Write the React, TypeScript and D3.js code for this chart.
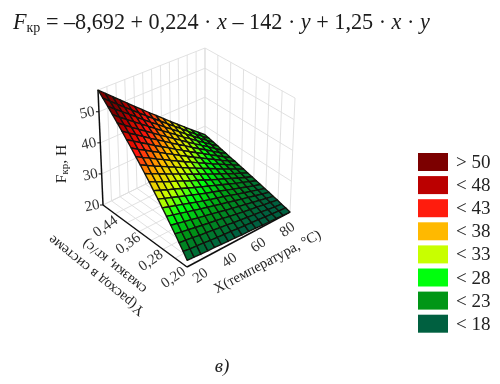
import React from "react";
import * as d3 from "d3";

const legendLabels = ["> 50", "< 48", "< 43", "< 38", "< 33", "< 28", "< 23", "< 18"];
const legendColors = ["#7b0000", "#bb0000", "#ff1a0a", "#ffb900", "#c8ff00", "#00ff10", "#009614", "#00603f"];
const colorStops = [21.5, 26, 30, 33.5, 38, 43, 48, 52];
const xTicks = [20, 40, 60, 80];
const yTicks = [0.2, 0.28, 0.36, 0.44];
const zTicks = [20, 30, 40, 50];
const xGrid = [20, 25, 30, 35, 40, 45, 50, 55, 60, 65, 70, 75, 80];
const yGrid = [0.2, 0.24, 0.28, 0.32, 0.36, 0.4, 0.44, 0.48];
const zGrid = [20, 30, 40, 50, 57];
// Surface heights: rows run from y = 0.20 to y = 0.48, columns from x = 20 to x = 80.
const surfaceX = [20, 24, 28, 32, 36, 40, 44, 48, 52, 56, 60, 64, 68, 72, 76, 80];
const surfaceY = [0.2, 0.214, 0.228, 0.242, 0.256, 0.27, 0.284, 0.298, 0.312, 0.326, 0.34, 0.354, 0.368, 0.382, 0.396, 0.41, 0.424, 0.438, 0.452, 0.466, 0.48];
const surfaceZ = [
  [22.0, 21.9, 21.7, 21.6, 21.5, 21.3, 21.2, 21.1, 20.9, 20.8, 20.7, 20.5, 20.4, 20.3, 20.1, 20.0],
  [23.8, 23.5, 23.3, 23.1, 22.8, 22.6, 22.4, 22.2, 21.9, 21.7, 21.5, 21.3, 21.0, 20.8, 20.6, 20.4],
  [25.5, 25.2, 24.9, 24.5, 24.2, 23.9, 23.6, 23.3, 22.9, 22.6, 22.3, 22.0, 21.7, 21.3, 21.0, 20.7],
  [27.3, 26.8, 26.4, 26.0, 25.6, 25.2, 24.8, 24.4, 23.9, 23.5, 23.1, 22.7, 22.3, 21.9, 21.5, 21.1],
  [29.0, 28.5, 28.0, 27.5, 27.0, 26.5, 26.0, 25.5, 24.9, 24.4, 23.9, 23.4, 22.9, 22.4, 21.9, 21.4],
  [30.8, 30.2, 29.6, 29.0, 28.4, 27.8, 27.2, 26.6, 26.0, 25.4, 24.8, 24.2, 23.6, 23.0, 22.4, 21.8],
  [32.5, 31.8, 31.1, 30.4, 29.7, 29.0, 28.3, 27.6, 27.0, 26.3, 25.6, 24.9, 24.2, 23.5, 22.8, 22.1],
  [34.3, 33.5, 32.7, 31.9, 31.1, 30.3, 29.5, 28.7, 28.0, 27.2, 26.4, 25.6, 24.8, 24.0, 23.2, 22.5],
  [36.0, 35.1, 34.2, 33.4, 32.5, 31.6, 30.7, 29.8, 29.0, 28.1, 27.2, 26.3, 25.4, 24.6, 23.7, 22.8],
  [37.8, 36.8, 35.8, 34.8, 33.9, 32.9, 31.9, 31.0, 30.0, 29.0, 28.0, 27.1, 26.1, 25.1, 24.1, 23.2],
  [39.5, 38.4, 37.4, 36.3, 35.2, 34.2, 33.1, 32.0, 31.0, 29.9, 28.8, 27.8, 26.7, 25.6, 24.6, 23.5],
  [41.3, 40.1, 38.9, 37.8, 36.6, 35.5, 34.3, 33.1, 32.0, 30.8, 29.7, 28.5, 27.3, 26.2, 25.0, 23.9],
  [43.0, 41.7, 40.5, 39.2, 38.0, 36.7, 35.5, 34.2, 33.0, 31.7, 30.5, 29.2, 28.0, 26.7, 25.5, 24.2],
  [44.8, 43.4, 42.1, 40.7, 39.4, 38.0, 36.7, 35.3, 34.0, 32.6, 31.3, 29.9, 28.6, 27.2, 25.9, 24.6],
  [46.5, 45.1, 43.6, 42.2, 40.7, 39.3, 37.9, 36.4, 35.0, 33.5, 32.1, 30.7, 29.2, 27.8, 26.3, 24.9],
  [48.3, 46.7, 45.2, 43.7, 42.1, 40.6, 39.1, 37.5, 36.0, 34.5, 32.9, 31.4, 29.9, 28.3, 26.8, 25.3],
  [50.0, 48.4, 46.7, 45.1, 43.5, 41.9, 40.2, 38.6, 37.0, 35.4, 33.7, 32.1, 30.5, 28.9, 27.2, 25.6],
  [51.8, 50.0, 48.3, 46.6, 44.9, 43.2, 41.4, 39.7, 38.0, 36.3, 34.5, 32.8, 31.1, 29.4, 27.7, 26.0],
  [53.5, 51.7, 49.9, 48.1, 46.3, 44.4, 42.6, 40.8, 39.0, 37.2, 35.4, 33.5, 31.7, 29.9, 28.1, 26.3],
  [55.3, 53.3, 51.4, 49.5, 47.6, 45.7, 43.8, 41.9, 40.0, 38.1, 36.2, 34.3, 32.3, 30.4, 28.5, 26.7],
  [57, 55, 53, 51, 49, 47, 45, 43, 41, 39, 37, 35, 33, 31, 29, 27],
];

const W = 500;
const H = 384;
const serif = "'Liberation Serif', serif";

const uScale = d3.scaleLinear().domain([20, 80]).range([0, 1]);
const vScale = d3.scaleLinear().domain([0.2, 0.48]).range([0, 1]);
const wScale = d3.scaleLinear().domain([20, 57]).range([0, 1]);
const color = d3.scaleLinear<string>().domain(colorStops).range([...legendColors].reverse()).clamp(true);
const xLabelX = d3.scaleLinear().domain([20, 80]).range([200, 287]);
const xLabelY = d3.scaleLinear().domain([20, 80]).range([275, 229]);
const yLabelX = d3.scaleLinear().domain([0.2, 0.44]).range([173, 105]);
const yLabelY = d3.scaleLinear().domain([0.2, 0.44]).range([277, 226]);
const zLabelX = d3.scaleLinear().domain([20, 50]).range([92, 87]);
const zLabelY = d3.scaleLinear().domain([20, 50]).range([205, 112]);

// Screen positions of the eight corners of the plot box, indexed [u][v][w].
const box = [
  [[[187, 267], [191, 145]], [[103, 205], [98, 90]]],
  [[[290, 212], [295, 98]], [[205, 155], [205, 48]]],
];

function project(x: number, y: number, z: number): [number, number] {
  const u = uScale(x), v = vScale(y), w = wScale(z);
  const at = (k: number) =>
    (1 - u) * ((1 - v) * ((1 - w) * box[0][0][0][k] + w * box[0][0][1][k]) + v * ((1 - w) * box[0][1][0][k] + w * box[0][1][1][k])) +
    u * ((1 - v) * ((1 - w) * box[1][0][0][k] + w * box[1][0][1][k]) + v * ((1 - w) * box[1][1][0][k] + w * box[1][1][1][k]));
  return [at(0), at(1)];
}

const line = d3.line<[number, number]>();
const seg = (a: [number, number, number], b: [number, number, number]) => line([project(...a), project(...b)]) as string;

const X0 = 20, X1 = 80, Y0 = 0.2, Y1 = 0.48, Z0 = 20, Z1 = 57;

const gridSegs: string[] = [
  ...xGrid.map((x) => seg([x, Y1, Z0], [x, Y1, Z1])),
  ...zGrid.map((z) => seg([X0, Y1, z], [X1, Y1, z])),
  ...yGrid.map((y) => seg([X1, y, Z0], [X1, y, Z1])),
  ...zGrid.map((z) => seg([X1, Y0, z], [X1, Y1, z])),
  ...xGrid.map((x) => seg([x, Y0, Z0], [x, Y1, Z0])),
  ...yGrid.map((y) => seg([X0, y, Z0], [X1, y, Z0])),
];

const cells: { d: string; fill: string }[] = [];
for (let i = surfaceY.length - 2; i >= 0; i--) {
  for (let j = 0; j < surfaceX.length - 1; j++) {
    const corners: [number, number, number][] = [
      [surfaceX[j], surfaceY[i], surfaceZ[i][j]],
      [surfaceX[j + 1], surfaceY[i], surfaceZ[i][j + 1]],
      [surfaceX[j + 1], surfaceY[i + 1], surfaceZ[i + 1][j + 1]],
      [surfaceX[j], surfaceY[i + 1], surfaceZ[i + 1][j]],
    ];
    const mean = d3.mean(corners, (c) => c[2]) as number;
    cells.push({ d: (line(corners.map((c) => project(...c))) as string) + "Z", fill: color(mean) });
  }
}

const fmt = (y: number) => y.toFixed(2).replace(".", ",");

export default function App() {
  return (
    <svg width={W} height={H} style={{ position: "fixed", left: 0, top: 0, background: "#fff" }} fontFamily={serif}>
      <defs>
        <filter id="soft" x="0" y="0" width="100%" height="100%">
          <feGaussianBlur stdDeviation={0.4} />
        </filter>
      </defs>
      <g filter="url(#soft)">
        <text x={13} y={29} fontSize={22.2} fill="#1a1a1a">
          <tspan fontStyle="italic">F</tspan>
          <tspan fontSize={14} dy={3}>кр</tspan>
          <tspan dy={-3}> = –8,692 + 0,224 · </tspan>
          <tspan fontStyle="italic">x</tspan>
          <tspan> – 142 · </tspan>
          <tspan fontStyle="italic">y</tspan>
          <tspan> + 1,25 · </tspan>
          <tspan fontStyle="italic">x</tspan>
          <tspan> · </tspan>
          <tspan fontStyle="italic">y</tspan>
        </text>

        <g stroke="#dedede" strokeWidth={0.9} fill="none">
          {gridSegs.map((d, i) => <path key={i} d={d} />)}
        </g>

        <g stroke="#111" fill="none">
          <path d={seg([X0, Y1, Z0], [X0, Y1, Z1])} strokeWidth={1.5} />
          <path d={seg([X0, Y1, Z0], [X0, Y0, Z0])} strokeWidth={1.5} />
          <path d={seg([X0, Y0, Z0], [X1, Y0, Z0])} strokeWidth={1.5} />
          {zTicks.map((z) => {
            const [px, py] = project(X0, Y1, z);
            return <path key={z} d={line([[px - 3, py], [px, py]]) as string} strokeWidth={1} />;
          })}
        </g>

        <g stroke="#12120c" strokeWidth={1.35} strokeLinejoin="round">
          {cells.map((c, i) => <path key={i} d={c.d} fill={c.fill} />)}
        </g>

        <g fontSize={15} fill="#333" textAnchor="middle" dominantBaseline="central">
          {zTicks.map((z) => (
            <text key={z} transform={`translate(${zLabelX(z)},${zLabelY(z)}) rotate(-12)`}>{z}</text>
          ))}
          {yTicks.map((y) => (
            <text key={y} transform={`translate(${yLabelX(y)},${yLabelY(y)}) rotate(-35)`}>{fmt(y)}</text>
          ))}
          {xTicks.map((x) => (
            <text key={x} transform={`translate(${xLabelX(x)},${xLabelY(x)}) rotate(-35)`}>{x}</text>
          ))}
        </g>

        <text transform="translate(66,164) rotate(-90)" fontSize={15.5} fill="#222" textAnchor="middle">
          F<tspan fontSize={11} dy={2}>кр</tspan><tspan dy={-2}>, Н</tspan>
        </text>
        <g fontSize={14.5} fill="#222" textAnchor="middle" dominantBaseline="central">
          <text transform="translate(96,276) rotate(219)">Y(расход в системе</text>
          <text transform="translate(114,267) rotate(219)">смазки, кг/с)</text>
          <text transform="translate(267,261) rotate(-28)">X(температура, °С)</text>
        </g>

        {legendLabels.map((label, i) => {
          const top = 153 + i * 23.1;
          return (
            <g key={label}>
              <rect x={418} y={top} width={30} height={18} fill={legendColors[i]} />
              <text x={456} y={top + 15} fontSize={19} fill="#222">{label}</text>
            </g>
          );
        })}

        <text x={222} y={372} fontSize={19} fontStyle="italic" textAnchor="middle" fill="#222">в)</text>
      </g>
    </svg>
  );
}
